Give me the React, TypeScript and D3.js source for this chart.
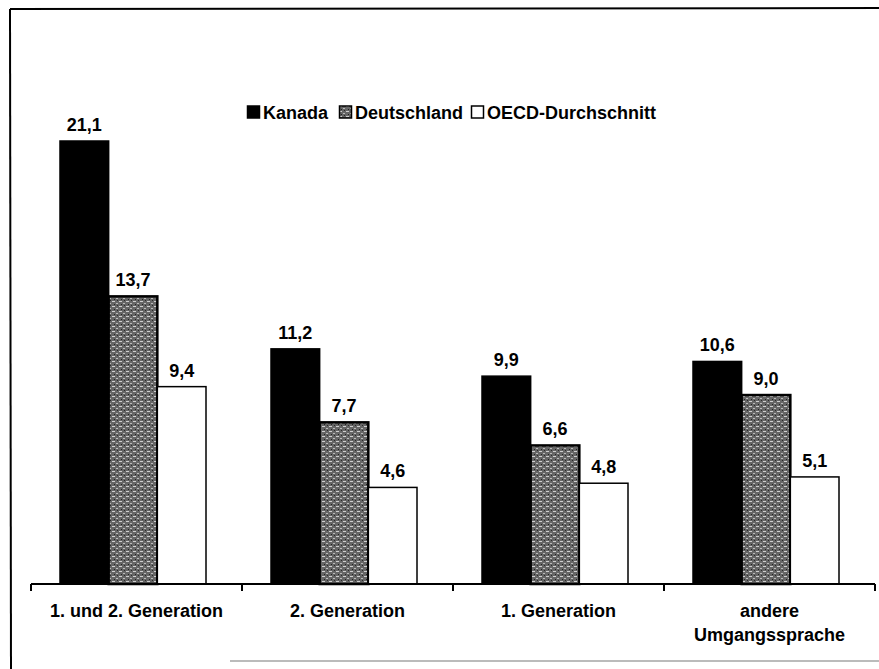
import * as d3 from 'd3';

const categories = ['1. und 2. Generation', '2. Generation', '1. Generation', 'andere\nUmgangssprache'];
const seriesNames = ['Kanada', 'Deutschland', 'OECD-Durchschnitt'];
const kanada = [21.1, 11.2, 9.9, 10.6];
const deutschland = [13.7, 7.7, 6.6, 9.0];
const oecd = [9.4, 4.6, 4.8, 5.1];

const W = 879;
const H = 669;
const baseY = 584;
const font = '"Liberation Sans", Arial, Helvetica, sans-serif';

const fills = ['#000', 'url(#tex)', '#fff'];
const legendX = [247, 339, 471];

const fmt = (v: number) => d3.format('.1f')(v).replace('.', ',');

const App = () => {
  const values = [kanada, deutschland, oecd];

  const x = d3.scaleBand<string>().domain(categories).range([31, 875]);
  const xs = d3.scaleBand<string>().domain(seriesNames).range([29, 175]);
  const y = d3.scaleLinear().domain([0, 21.1]).range([baseY, 141]);

  return (
    <svg width={W} height={H} style={{ position: 'absolute', left: 0, top: 0, background: '#fff' }}>
      <defs>
        <pattern id="tex" width="7" height="5" patternUnits="userSpaceOnUse">
          <rect width="7" height="5" fill="#666" />
          <rect x="0" y="1" width="3" height="1" fill="#d0d0d0" />
          <rect x="4" y="3" width="2" height="1" fill="#bbb" />
          <rect x="5" y="0" width="1" height="1" fill="#2a2a2a" />
          <rect x="2" y="4" width="1" height="1" fill="#222" />
        </pattern>
      </defs>

      {/* frame */}
      <line x1={10} y1={9} x2={W} y2={8} stroke="#000" strokeWidth={2} />
      <line x1={10} y1={9} x2={11} y2={H} stroke="#000" strokeWidth={2} />
      <line x1={230} y1={661} x2={W} y2={661} stroke="#bbb" strokeWidth={2} />

      {/* legend */}
      <g fontFamily={font} fontWeight="bold" fontSize={18}>
        {seriesNames.map((s, i) => (
          <g key={s} transform={`translate(${legendX[i]},0)`}>
            <rect x={0.5} y={106} width={12} height={12} fill={fills[i]} stroke="#000" strokeWidth={1.5} />
            <text x={16} y={119} fill="#000">{s}</text>
          </g>
        ))}
      </g>

      {/* bars */}
      {categories.map((c, ci) => (
        <g key={c}>
          {seriesNames.map((s, si) => {
            const v = values[si][ci];
            const bx = (x(c) ?? 0) + (xs(s) ?? 0);
            const bw = xs.bandwidth();
            return (
              <g key={s}>
                <rect
                  x={bx}
                  y={y(v)}
                  width={bw}
                  height={baseY - y(v)}
                  fill={fills[si]}
                  stroke="#000"
                  strokeWidth={si === 1 ? 2.5 : 1.5}
                />
                <text
                  x={bx + bw / 2}
                  y={y(v) - 10}
                  textAnchor="middle"
                  fontFamily={font}
                  fontWeight="bold"
                  fontSize={18}
                >
                  {fmt(v)}
                </text>
              </g>
            );
          })}
        </g>
      ))}

      {/* x axis */}
      <line x1={31} y1={baseY} x2={875} y2={baseY} stroke="#000" strokeWidth={2} />
      {[...categories.map(c => x(c) ?? 0), 875].map((t, i) => (
        <line key={i} x1={t} y1={baseY} x2={t} y2={baseY + 7} stroke="#000" strokeWidth={2} />
      ))}
      {categories.map(c => (
        <text
          key={c}
          x={(x(c) ?? 0) + x.bandwidth() / 2}
          y={617}
          textAnchor="middle"
          fontFamily={font}
          fontWeight="bold"
          fontSize={18}
        >
          {c.split('\n').map((line, li) => (
            <tspan key={li} x={(x(c) ?? 0) + x.bandwidth() / 2} dy={li === 0 ? 0 : 24}>
              {line}
            </tspan>
          ))}
        </text>
      ))}
    </svg>
  );
};

export default App;
